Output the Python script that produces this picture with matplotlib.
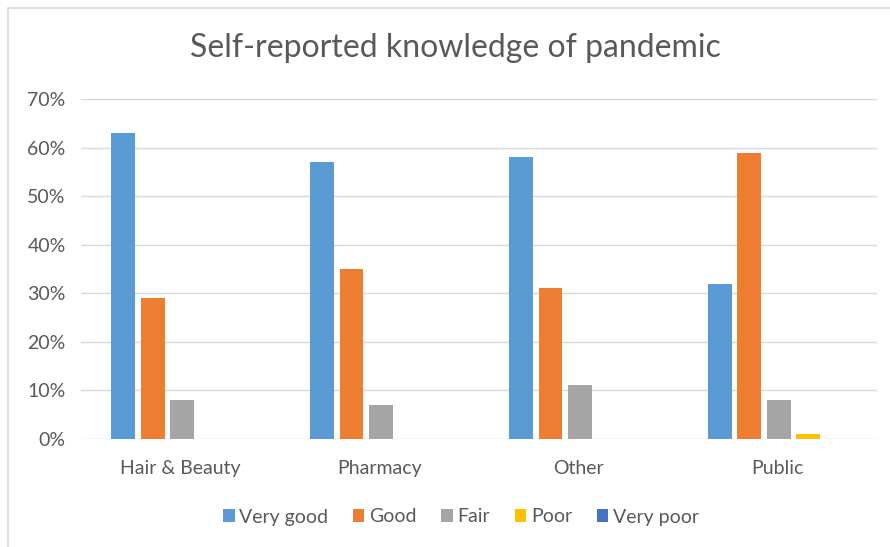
import matplotlib
matplotlib.use("Agg")
import matplotlib.pyplot as plt
from matplotlib.patches import Rectangle
from matplotlib.ticker import PercentFormatter
import numpy as np

plt.rcParams['font.family'] = ['Lato', 'DejaVu Sans']

categories = ["Hair & Beauty", "Pharmacy", "Other", "Public"]
series_names = ["Very good", "Good", "Fair", "Poor", "Very poor"]
very_good = [63, 57, 58, 32]
good = [29, 35, 31, 59]
fair = [8, 7, 11, 8]
poor = [0, 0, 0, 1]
very_poor = [0, 0, 0, 0]
colors = ["#5B9BD5", "#ED7D31", "#A5A5A5", "#FFC000", "#4472C4"]

W, H = 890, 547
fig = plt.figure(figsize=(W / 100, H / 100), dpi=100)

# chart border (the frame runs off the right and bottom edges)
fig.patches.append(Rectangle((8 / W, -0.05), 1.1, 1 - 8 / H + 0.05,
                             transform=fig.transFigure, fill=False,
                             edgecolor="#D9D9D9", linewidth=1.2))

ax = fig.add_axes([81 / W, (H - 438.7) / H, (876.7 - 81) / W, (438.7 - 99.3) / H])

x = np.arange(len(categories))
step = 0.148
width = 0.12
all_series = [very_good, good, fair, poor, very_poor]
for i, (name, vals, col) in enumerate(zip(series_names, all_series, colors)):
    ax.bar(x + (i - 2) * step + 0.008, np.array(vals) / 100, width=width,
           color=col, label=name, zorder=3)

ax.set_xlim(-0.5, 3.5)
ax.set_ylim(0, 0.7)
ax.set_yticks(np.arange(0, 0.71, 0.1))
ax.yaxis.set_major_formatter(PercentFormatter(1.0, decimals=0))
ax.grid(axis='y', color="#D9D9D9", linewidth=1, zorder=0)
ax.set_xticks(x)
ax.set_xticklabels(categories)
for s in ax.spines.values():
    s.set_visible(False)
ax.tick_params(length=0, labelsize=14, colors="#595959")
ax.tick_params(axis='x', pad=15)
ax.tick_params(axis='y', pad=11)

fig.text(455 / W, 1 - 48 / H, "Self-reported knowledge of pandemic",
         ha='center', va='center', fontsize=23, color="#595959")

fig.legend(loc='center', bbox_to_anchor=(461 / W, 1 - 517 / H), ncol=5,
           frameon=False, fontsize=14, handlelength=0.6, handleheight=0.6,
           handletextpad=0.25, columnspacing=1.25, labelcolor="#595959")

fig.savefig("out.png", dpi=100, facecolor="white")
